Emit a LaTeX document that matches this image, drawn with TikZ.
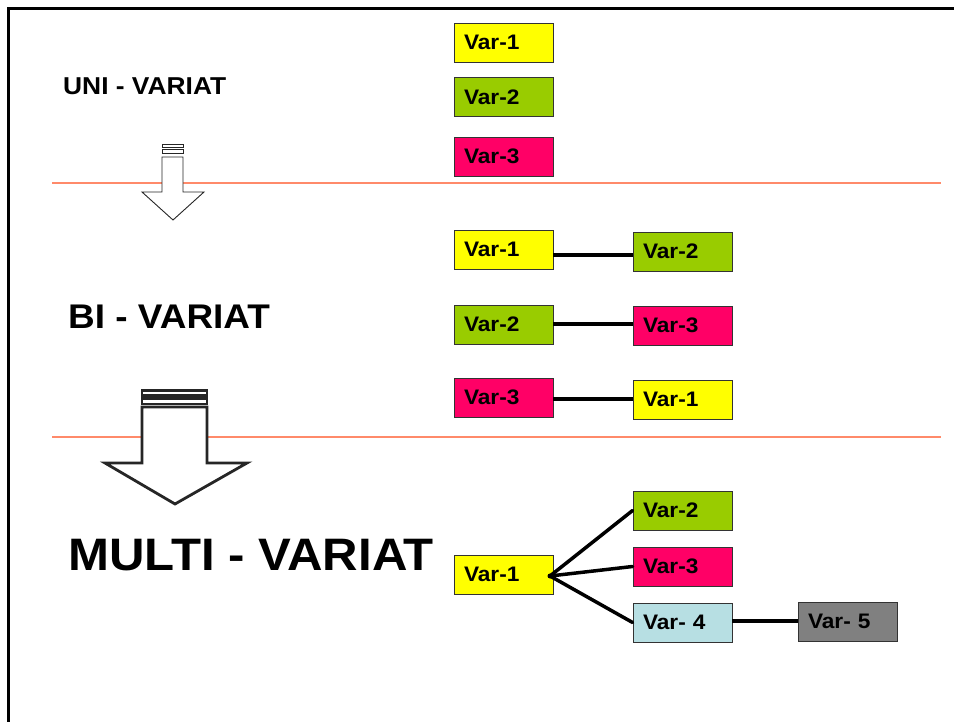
\documentclass[tikz,border=0pt]{standalone}
\usepackage{fontspec}
\setmainfont{Liberation Sans}[FakeStretch=1.08]
\begin{document}
\begin{tikzpicture}[x=1pt,y=-1pt,
  varbox/.style={draw=black!80, line width=0.8pt, minimum height=39pt,
    text width=79pt, inner xsep=10pt, inner ysep=0pt, align=left,
    font=\fontsize{21}{24}\selectfont\bfseries},
  link/.style={line width=3.5pt, line cap=round},
  divider/.style={draw=divred, line width=1.4pt},
  arrowline/.style={draw=black!85, fill=white, line join=miter}]
\definecolor{cyel}{HTML}{FFFF00}
\definecolor{cgrn}{HTML}{99CC00}
\definecolor{cpnk}{HTML}{FF0066}
\definecolor{cblu}{HTML}{B7DFE3}
\definecolor{cgry}{HTML}{808080}
\definecolor{divred}{HTML}{FF8A6A}
\useasboundingbox (0,0) rectangle (954,722);

% frame along left and top edges
\draw[line width=3pt] (8.5,722) -- (8.5,8.5) -- (954,8.5);

% section dividers
\draw[divider] (52,183) -- (941,183);
\draw[divider] (52,437) -- (941,437);

% headings
\node[anchor=base west, inner sep=0pt, font=\fontsize{24.4}{28}\selectfont\bfseries] (uni) at (63,95) {UNI - VARIAT};
\node[anchor=base west, inner sep=0pt, font=\fontsize{34.2}{38}\selectfont\bfseries] (bi) at (68,329) {BI - VARIAT};
\node[anchor=base west, inner sep=0pt, font=\fontsize{45.5}{50}\selectfont\bfseries] (multi) at (68,570) {MULTI - VARIAT};

% small block arrow
\draw[arrowline, line width=0.9pt] (162,144) rectangle (183,147);
\draw[arrowline, line width=0.9pt] (162,149.5) rectangle (183,153);
\draw[arrowline, line width=0.9pt] (162,157) -- (183,157) -- (183,192) -- (204,192)
  -- (173,220) -- (142,192) -- (162,192) -- cycle;

% large block arrow
\draw[arrowline, line width=2.6pt] (142,390.5) rectangle (207,395.5);
\draw[arrowline, line width=2.6pt] (142,398.5) rectangle (207,404);
\draw[arrowline, line width=2.8pt] (142,407) -- (207,407) -- (207,463) -- (247,463)
  -- (175,504) -- (105,463) -- (142,463) -- cycle;

% univariate
\node[varbox, fill=cyel] (u1) at (503.5,42.5) {Var-1};
\node[varbox, fill=cgrn] (u2) at (503.5,97) {Var-2};
\node[varbox, fill=cpnk] (u3) at (503.5,156.5) {Var-3};

% bivariate
\node[varbox, fill=cyel] (b1a) at (503.5,249.5) {Var-1};
\node[varbox, fill=cgrn] (b1b) at (682.5,251.5) {Var-2};
\node[varbox, fill=cgrn] (b2a) at (503.5,324.5) {Var-2};
\node[varbox, fill=cpnk] (b2b) at (682.5,325.5) {Var-3};
\node[varbox, fill=cpnk] (b3a) at (503.5,397.5) {Var-3};
\node[varbox, fill=cyel] (b3b) at (682.5,399.5) {Var-1};

\coordinate (l1) at (553,255);
\coordinate (l2) at (553,324);
\coordinate (l3) at (553,399);
\draw[link, line cap=butt] (l1) -- (l1 -| b1b.west);
\draw[link, line cap=butt] (l2) -- (l2 -| b2b.west);
\draw[link, line cap=butt] (l3) -- (l3 -| b3b.west);

% multivariate
\node[varbox, fill=cyel] (m1) at (503.5,574.5) {Var-1};
\node[varbox, fill=cgrn] (m2) at (682.5,510.5) {Var-2};
\node[varbox, fill=cpnk] (m3) at (682.5,566.5) {Var-3};
\node[varbox, fill=cblu] (m4) at (682.5,622.5) {Var- 4};
\node[varbox, fill=cgry] (m5) at (847.5,621.5) {Var- 5};

\coordinate (hub) at (550,576);
\draw[link] (hub) -- (m2.west);
\draw[link] (hub) -- (m3.west);
\draw[link] (hub) -- (m4.west);
\fill (hub) circle (2.5);
\coordinate (l4) at (732,621);
\draw[link, line cap=butt] (l4) -- (l4 -| m5.west);
\end{tikzpicture}
\end{document}
